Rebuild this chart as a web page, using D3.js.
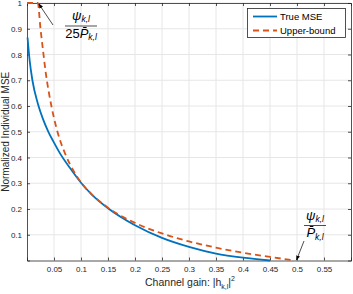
<!DOCTYPE html>
<html>
<head>
<meta charset="utf-8">
<script src="https://cdn.jsdelivr.net/npm/d3@7"></script>
<style>
  body { margin: 0; background: #fff; }
  text { font-family: "Liberation Sans", Arial, sans-serif; }
  .math { font-family: "Liberation Serif", "DejaVu Serif", serif; font-style: italic; }
</style>
</head>
<body>
<div id="container"></div>
<script>
var width = 353,
    height = 294;

// channel gain values and curves
var trueX = [0.001, 0.005, 0.01, 0.02, 0.03, 0.04, 0.05, 0.06, 0.08, 0.1, 0.12, 0.15, 0.2, 0.25, 0.3, 0.35, 0.4, 0.45];
var trueMse = [0.866, 0.775, 0.70, 0.61, 0.547, 0.498, 0.458, 0.42, 0.358, 0.302, 0.256, 0.203, 0.137, 0.088, 0.053, 0.027, 0.011, 0.0];

var boundX = [0, 0.02, 0.025, 0.03, 0.035, 0.04, 0.045, 0.05, 0.06, 0.07, 0.08, 0.09, 0.1, 0.12, 0.15, 0.2, 0.25, 0.3, 0.35, 0.4, 0.45, 0.495];
var boundMse = [1, 1, 0.9, 0.81, 0.725, 0.658, 0.602, 0.553, 0.475, 0.418, 0.372, 0.335, 0.303, 0.257, 0.205, 0.146, 0.105, 0.074, 0.05, 0.03, 0.014, 0.0];

var xTicks = [0.05, 0.1, 0.15, 0.2, 0.25, 0.3, 0.35, 0.4, 0.45, 0.5, 0.55];
var yTicks = [0.1, 0.2, 0.3, 0.4, 0.5, 0.6, 0.7, 0.8, 0.9, 1];
var seriesNames = ["True MSE", "Upper-bound"];
var colors = ["#0072BD", "#D95319"];

var svg = d3.select("#container")
    .append("svg")
    .attr("width", width)
    .attr("height", height);

var x = d3.scaleLinear().domain([0, 0.6]).range([27, 351]);
var y = d3.scaleLinear().domain([0, 1]).range([260.5, 3]);

// grid
svg.append("g")
    .selectAll("line")
    .data(xTicks)
    .enter().append("line")
    .attr("x1", function (d) { return x(d) })
    .attr("x2", function (d) { return x(d) })
    .attr("y1", y(0))
    .attr("y2", y(1))
    .attr("stroke", "#e6e6e6")
    .attr("stroke-width", 1);

svg.append("g")
    .selectAll("line")
    .data(yTicks)
    .enter().append("line")
    .attr("x1", x(0))
    .attr("x2", x(0.6))
    .attr("y1", function (d) { return y(d) })
    .attr("y2", function (d) { return y(d) })
    .attr("stroke", "#e6e6e6")
    .attr("stroke-width", 1);

// axes (matlab box style, ticks inward)
var xAxis = svg.append("g")
    .attr("transform", "translate(0," + y(0) + ")")
    .call(d3.axisBottom(x).tickValues(xTicks).tickSize(-3).tickPadding(6).tickFormat(d3.format("")));
var xAxisTop = svg.append("g")
    .attr("transform", "translate(0," + y(1) + ")")
    .call(d3.axisTop(x).tickValues(xTicks).tickSize(-3).tickFormat(""));
var yAxis = svg.append("g")
    .attr("transform", "translate(" + x(0) + ",0)")
    .call(d3.axisLeft(y).tickValues(yTicks).tickSize(-3).tickPadding(5).tickFormat(d3.format("")));
var yAxisRight = svg.append("g")
    .attr("transform", "translate(" + x(0.6) + ",0)")
    .call(d3.axisRight(y).tickValues(yTicks).tickSize(-3).tickFormat(""));

[xAxis, xAxisTop, yAxis, yAxisRight].forEach(function (a) {
    a.select(".domain").attr("stroke", "#262626").attr("stroke-width", 0.8);
    a.selectAll(".tick line").attr("stroke", "#262626").attr("stroke-width", 0.8);
    a.selectAll("text").attr("fill", "#262626").style("font-size", "8px")
        .style("font-family", "'Liberation Sans', Arial, sans-serif");
});

// curves
var line = d3.line()
    .x(function (d) { return x(d[0]) })
    .y(function (d) { return y(d[1]) })
    .curve(d3.curveMonotoneX);

var trueData = trueX.map(function (v, i) { return [v, trueMse[i]] });
var boundData = boundX.map(function (v, i) { return [v, boundMse[i]] });

svg.append("path")
    .attr("d", line(trueData))
    .attr("fill", "none")
    .attr("stroke", colors[0])
    .attr("stroke-width", 1.8);

svg.append("path")
    .attr("d", line(boundData))
    .attr("fill", "none")
    .attr("stroke", colors[1])
    .attr("stroke-width", 1.8)
    .attr("stroke-dasharray", "6,4");

// axis labels
svg.append("text")
    .attr("transform", "translate(9," + ((y(0) + y(1)) / 2) + ") rotate(-90)")
    .attr("text-anchor", "middle")
    .style("font-size", "10px")
    .attr("fill", "#262626")
    .text("Normalized Individual MSE");

var xl = svg.append("text")
    .attr("x", 190)
    .attr("y", 286)
    .attr("text-anchor", "middle")
    .style("font-size", "10.5px")
    .attr("fill", "#262626");
xl.append("tspan").text("Channel gain: |h");
xl.append("tspan").attr("dy", 3).style("font-size", "7px").text("k,l");
xl.append("tspan").attr("dy", -3).text("|");
xl.append("tspan").attr("dy", -5).style("font-size", "7px").text("2");

// legend
var legend = svg.append("g");
legend.append("rect")
    .attr("x", 247.5)
    .attr("y", 8.5)
    .attr("width", 98)
    .attr("height", 29)
    .attr("fill", "#fff")
    .attr("stroke", "#262626")
    .attr("stroke-width", 0.8);

seriesNames.forEach(function (name, i) {
    var ly = 16.5 + i * 14;
    legend.append("line")
        .attr("x1", 253)
        .attr("x2", 277)
        .attr("y1", ly)
        .attr("y2", ly)
        .attr("stroke", colors[i])
        .attr("stroke-width", 1.8)
        .attr("stroke-dasharray", i == 1 ? "6,4" : null);
    legend.append("text")
        .attr("x", 280)
        .attr("y", ly + 3.5)
        .style("font-size", "9.5px")
        .attr("fill", "#000")
        .text(name);
});

// annotations
svg.append("defs").append("marker")
    .attr("id", "arrow")
    .attr("viewBox", "0 0 10 10")
    .attr("refX", 9)
    .attr("refY", 5)
    .attr("markerWidth", 7)
    .attr("markerHeight", 7)
    .attr("orient", "auto")
    .append("path")
    .attr("d", "M0,1L10,5L0,9Z")
    .attr("fill", "#000");

function fraction(cx, cy, den) {
    var g = svg.append("g").attr("class", "math");
    var num = g.append("text")
        .attr("x", cx)
        .attr("y", cy - 6)
        .attr("text-anchor", "middle")
        .style("font-size", "13px");
    num.append("tspan").text("ψ");
    num.append("tspan").attr("dy", 2).style("font-size", "8.5px").text("k,l");
    var w = den == "25" ? 16 : 11;
    g.append("line")
        .attr("x1", cx - w)
        .attr("x2", cx + w)
        .attr("y1", cy)
        .attr("y2", cy)
        .attr("stroke", "#000")
        .attr("stroke-width", 0.7);
    var dt = g.append("text")
        .attr("x", cx)
        .attr("y", cy + 11.5)
        .attr("text-anchor", "middle")
        .style("font-size", "13px");
    if (den) dt.append("tspan").style("font-style", "normal").text(den);
    dt.append("tspan").text("P\u0304");
    dt.append("tspan").attr("dy", 2.5).style("font-size", "8.5px").text("k,l");
}

fraction(81, 26, "25");
fraction(315, 225.5, "");

svg.append("line")
    .attr("x1", 53)
    .attr("y1", 25)
    .attr("x2", x(0.022))
    .attr("y2", y(1) + 1)
    .attr("stroke", "#000")
    .attr("stroke-width", 0.7)
    .attr("marker-end", "url(#arrow)");

svg.append("line")
    .attr("x1", 304)
    .attr("y1", 241)
    .attr("x2", x(0.5) - 0.5)
    .attr("y2", y(0) - 0.5)
    .attr("stroke", "#000")
    .attr("stroke-width", 0.7)
    .attr("marker-end", "url(#arrow)");
</script>
</body>
</html>
